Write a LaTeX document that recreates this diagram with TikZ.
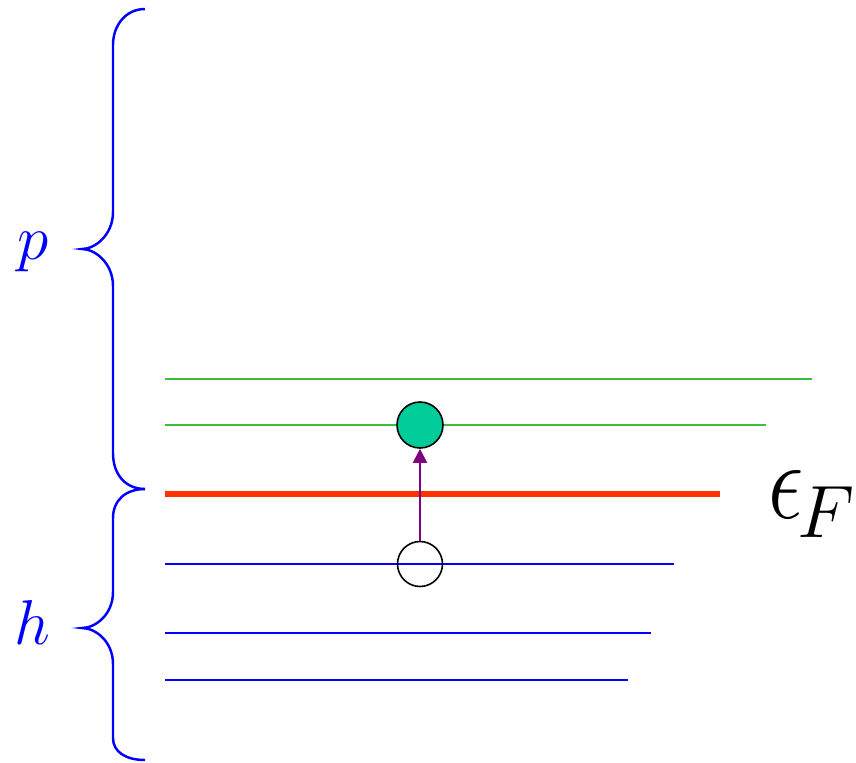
\documentclass[tikz,border=0pt]{standalone}
\usepackage{amsmath}
\usepackage{tikz}
\usetikzlibrary{arrows.meta, positioning}
\definecolor{levelgreen}{RGB}{60,190,60}
\definecolor{fermired}{RGB}{255,51,0}
\definecolor{electron}{RGB}{0,204,153}
\definecolor{hopping}{RGB}{128,0,128}
\tikzset{
    hole/.style={circle, draw=black, line width=0.9pt, minimum size=0.9cm, inner sep=0pt},
    electronball/.style={circle, draw=black, line width=0.9pt, fill=electron, minimum size=0.92cm, inner sep=0pt},
    plevel/.style={levelgreen, line width=0.85pt},
    hlevel/.style={blue, line width=0.85pt},
    fermi/.style={fermired, line width=3.4pt},
    bracket/.style={blue, line width=1.4pt},
    excite/.style={hopping, line width=1.1pt, -{Triangle[length=0.28cm, width=0.28cm]}},
    biglabel/.style={font=\Huge, scale=1.45, inner sep=0pt}
}

\begin{document}
\begin{tikzpicture}
    % Pixel-like coordinates
    \begin{scope}[x=0.02cm, y=-0.02cm]
        \useasboundingbox (0, 0) rectangle (856, 762);

        % Particle levels above the Fermi level
        \draw[plevel] (165, 379) -- (812, 379);
        \draw[plevel] (165, 425) -- (766, 425);

        % Fermi level
        \draw[fermi] (165, 494) -- (720, 494);
        \node[biglabel, scale=1.17, anchor=base west] (ef) at (768, 518) {\scalebox{1.2}[1.5]{$\epsilon$}\kern-2pt\raisebox{-0.26em}{$F$}};

        % Hole levels below the Fermi level
        \draw[hlevel] (165, 564) -- (674, 564);
        \draw[hlevel] (165, 633) -- (651, 633);
        \draw[hlevel] (165, 680) -- (628, 680);

        % Braces
        \draw[bracket] (145, 9) .. controls (126, 9) and (113, 25) .. (113, 45) -- (113, 212)
            .. controls (113, 235) and (95, 249) .. (82, 249)
            .. controls (95, 249) and (113, 263) .. (113, 286) -- (113, 453)
            .. controls (113, 475) and (126, 489) .. (145, 489);
        \draw[bracket] (145, 489) .. controls (126, 489) and (113, 500) .. (113, 518) -- (113, 592)
            .. controls (113, 615) and (95, 628) .. (82, 628)
            .. controls (95, 628) and (113, 641) .. (113, 664) -- (113, 738)
            .. controls (113, 752) and (126, 760) .. (145, 760);
        \node[biglabel, blue] (plabel) at (33, 252) {$p$};
        \node[biglabel, blue] (hlabel) at (32, 622) {$h$};

        % Particle-hole excitation
        \node[electronball] (elec) at (420, 425) {};
        \node[hole] (hol) at (420, 564) {};
        \draw[excite] (hol) -- (elec);

    \end{scope}
\end{tikzpicture}
\end{document}
